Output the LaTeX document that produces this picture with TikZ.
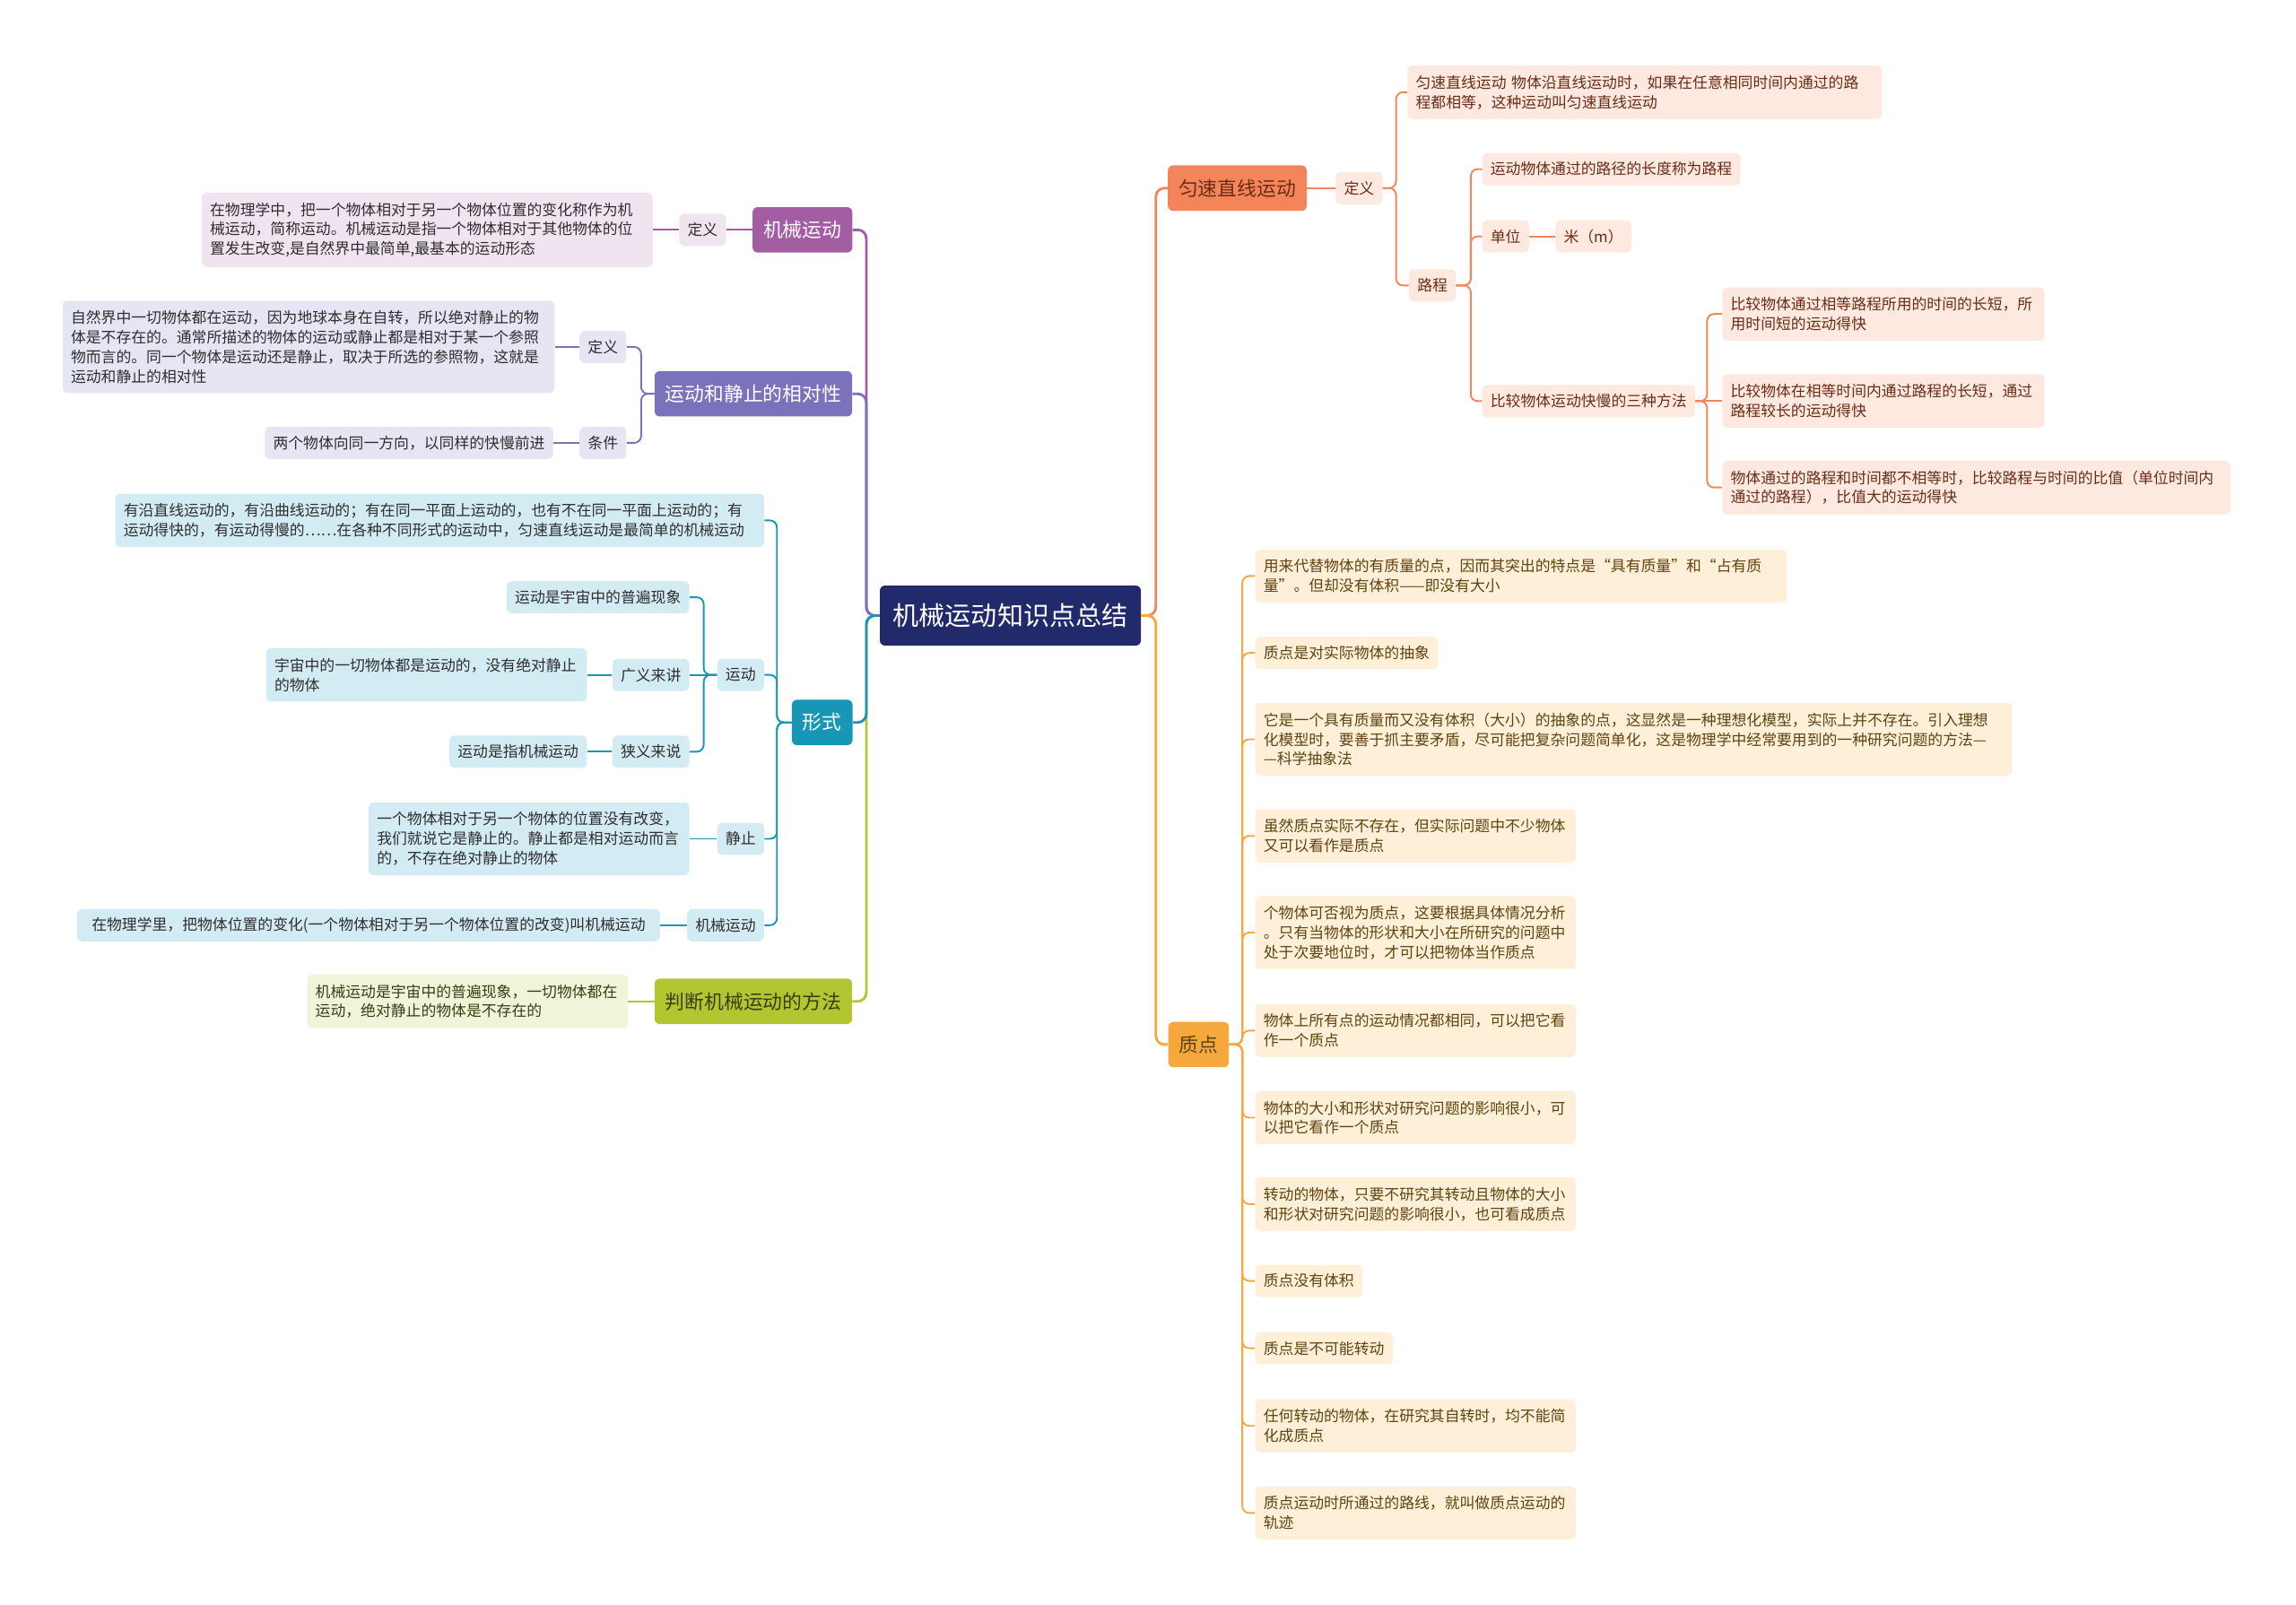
\documentclass[tikz,border=0pt]{standalone}
\usepackage{fontspec}
\setmainfont{Noto Sans CJK SC}
\usetikzlibrary{positioning}
\definecolor{rootc}{HTML}{232A6B}
\definecolor{c1}{HTML}{A35DA3}
\definecolor{bg1}{HTML}{EFE4F0}
\definecolor{c2}{HTML}{7B72BC}
\definecolor{bg2}{HTML}{E6E5F4}
\definecolor{c3}{HTML}{1797B5}
\definecolor{bg3}{HTML}{D3ECF3}
\definecolor{c4}{HTML}{B3C632}
\definecolor{bg4}{HTML}{F0F4D8}
\definecolor{ink4}{HTML}{3A3D12}
\definecolor{c5}{HTML}{F4855A}
\definecolor{bg5}{HTML}{FDE9E0}
\definecolor{ink5}{HTML}{6B2C16}
\definecolor{c6}{HTML}{F6A83D}
\definecolor{bg6}{HTML}{FEEFD9}
\definecolor{ink6}{HTML}{60430F}
\definecolor{ink}{HTML}{2E2E2E}

\begin{document}
\begin{tikzpicture}[
x=0.03cm, y=-0.03cm,
rootbox/.style={rectangle, fill=rootc, rounded corners=3pt, text=white, font=\fontsize{15.2}{18}\selectfont, minimum height=1.23cm, inner xsep=0.27cm},
mainbox/.style={rectangle, rounded corners=3pt, font=\fontsize{11.4}{14}\selectfont, minimum height=0.93cm, inner xsep=0.22cm},
tagbox/.style={rectangle, rounded corners=3pt, font=\fontsize{8.8}{11.4}\selectfont, minimum height=0.66cm, inner xsep=0.17cm, inner ysep=0.1cm},
notebox/.style={tagbox, align=left, inner ysep=0.2cm},
purplemain/.style={mainbox, fill=c1, text=white},
violetmain/.style={mainbox, fill=c2, text=white},
tealmain/.style={mainbox, fill=c3, text=white},
limemain/.style={mainbox, fill=c4, text=ink4},
coralmain/.style={mainbox, fill=c5, text=ink5},
ambermain/.style={mainbox, fill=c6, text=ink6},
purpleleaf/.style={fill=bg1, text=ink},
violetleaf/.style={fill=bg2, text=ink},
tealleaf/.style={fill=bg3, text=ink},
limeleaf/.style={fill=bg4, text=ink4},
coralleaf/.style={fill=bg5, text=ink5},
amberleaf/.style={fill=bg6, text=ink6},
trunk/.style={line width=1.5pt, rounded corners=5pt},
twig/.style={line width=1pt, rounded corners=4pt}
]
\useasboundingbox (0,0) rectangle (1568,1096);

\node[rootbox] (root) at (690,420.5) {机械运动知识点总结};

\node[purplemain] (mech) at (548,157) {机械运动};
\node[tagbox, purpleleaf, anchor=east] (mechdef) at (496,157) {定义};
\node[notebox, purpleleaf, anchor=east, text width=8.9cm] (mechtxt) at (446,157) {在物理学中，把一个物体相对于另一个物体位置的变化称作为机\\械运动，简称运动。机械运动是指一个物体相对于其他物体的位\\置发生改变,是自然界中最简单,最基本的运动形态};

\node[violetmain] (rel) at (514.5,269) {运动和静止的相对性};
\node[tagbox, violetleaf, anchor=east] (reldef) at (428,237) {定义};
\node[notebox, violetleaf, anchor=east, text width=9.74cm] (reltxt) at (379,237) {自然界中一切物体都在运动，因为地球本身在自转，所以绝对静止的物\\体是不存在的。通常所描述的物体的运动或静止都是相对于某一个参照\\物而言的。同一个物体是运动还是静止，取决于所选的参照物，这就是\\运动和静止的相对性};
\node[tagbox, violetleaf, anchor=east] (relcond) at (428,302.5) {条件};
\node[tagbox, violetleaf, anchor=east] (condtxt) at (378,302.5) {两个物体向同一方向，以同样的快慢前进};

\node[tealmain] (form) at (561.5,493.5) {形式};
\node[notebox, tealleaf, anchor=east, text width=12.95cm] (formtxt) at (522,355.5) {有沿直线运动的，有沿曲线运动的；有在同一平面上运动的，也有不在同一平面上运动的；有\\运动得快的，有运动得慢的……在各种不同形式的运动中，匀速直线运动是最简单的机械运动};
\node[tagbox, tealleaf, anchor=east] (move) at (522,461) {运动};
\node[tagbox, tealleaf, anchor=east] (common) at (471,408) {运动是宇宙中的普遍现象};
\node[tagbox, tealleaf, anchor=east] (broad) at (471,461) {广义来讲};
\node[notebox, tealleaf, anchor=east, text width=6.23cm] (broadtxt) at (401,461) {宇宙中的一切物体都是运动的，没有绝对静止\\的物体};
\node[tagbox, tealleaf, anchor=east] (narrow) at (471,513.5) {狭义来说};
\node[tagbox, tealleaf, anchor=east] (narrowtxt) at (401,513.5) {运动是指机械运动};
\node[tagbox, tealleaf, anchor=east] (rest) at (522,573) {静止};
\node[notebox, tealleaf, anchor=east, text width=6.23cm] (resttxt) at (471,573) {一个物体相对于另一个物体的位置没有改变，\\我们就说它是静止的。静止都是相对运动而言\\的，不存在绝对静止的物体};
\node[tagbox, tealleaf, anchor=east, inner xsep=0.3cm] (formmechtxt) at (451,632) {在物理学里，把物体位置的变化(一个物体相对于另一个物体位置的改变)叫机械运动};
\node[tagbox, tealleaf, anchor=east] (formmech) at (522,632) {机械运动};

\node[limemain] (judge) at (514.5,684) {判断机械运动的方法};
\node[notebox, limeleaf, anchor=east, text width=6.23cm] (judgetxt) at (429,684) {机械运动是宇宙中的普遍现象，一切物体都在\\运动，绝对静止的物体是不存在的};

\node[coralmain] (uniform) at (845,128.5) {匀速直线运动};
\node[tagbox, coralleaf, anchor=west] (unidef) at (912,128.5) {定义};
\node[notebox, coralleaf, anchor=west, text width=9.38cm] (unitxt) at (961,63) {匀速直线运动 物体沿直线运动时，如果在任意相同时间内通过的路\\程都相等，这种运动叫匀速直线运动};
\node[tagbox, coralleaf, anchor=west] (path) at (962,195) {路程};
\node[tagbox, coralleaf, anchor=west] (pathdef) at (1012,115.5) {运动物体通过的路径的长度称为路程};
\node[tagbox, coralleaf, anchor=west] (unit) at (1012,161.5) {单位};
\node[tagbox, coralleaf, anchor=west] (metre) at (1062,161.5) {米（m）};
\node[tagbox, coralleaf, anchor=west] (compare) at (1012,274) {比较物体运动快慢的三种方法};
\node[notebox, coralleaf, anchor=west, text width=6.26cm] (cmpa) at (1176,214.5) {比较物体通过相等路程所用的时间的长短，所\\用时间短的运动得快};
\node[notebox, coralleaf, anchor=west, text width=6.26cm] (cmpb) at (1176,274) {比较物体在相等时间内通过路程的长短，通过\\路程较长的运动得快};
\node[notebox, coralleaf, anchor=west, text width=10.07cm] (cmpc) at (1176,333) {物体通过的路程和时间都不相等时，比较路程与时间的比值（单位时间内\\通过的路程），比值大的运动得快};

\node[ambermain] (point) at (818.5,713.5) {质点};
\node[notebox, amberleaf, anchor=west, text width=10.55cm] (pa) at (857,393.5) {用来代替物体的有质量的点，因而其突出的特点是“具有质量”和“占有质\\量”。但却没有体积——即没有大小};
\node[tagbox, amberleaf, anchor=west] (pb) at (857,446) {质点是对实际物体的抽象};
\node[notebox, amberleaf, anchor=west, text width=15.17cm] (pc) at (857,505) {它是一个具有质量而又没有体积（大小）的抽象的点，这显然是一种理想化模型，实际上并不存在。引入理想\\化模型时，要善于抓主要矛盾，尽可能把复杂问题简单化，这是物理学中经常要用到的一种研究问题的方法—\\—科学抽象法};
\node[notebox, amberleaf, anchor=west, text width=6.23cm] (pd) at (857,571) {虽然质点实际不存在，但实际问题中不少物体\\又可以看作是质点};
\node[notebox, amberleaf, anchor=west, text width=6.23cm] (pe) at (857,637) {个物体可否视为质点，这要根据具体情况分析\\。只有当物体的形状和大小在所研究的问题中\\处于次要地位时，才可以把物体当作质点};
\node[notebox, amberleaf, anchor=west, text width=6.23cm] (pf) at (857,704) {物体上所有点的运动情况都相同，可以把它看\\作一个质点};
\node[notebox, amberleaf, anchor=west, text width=6.23cm] (pg) at (857,763.5) {物体的大小和形状对研究问题的影响很小，可\\以把它看作一个质点};
\node[notebox, amberleaf, anchor=west, text width=6.23cm] (ph) at (857,822.5) {转动的物体，只要不研究其转动且物体的大小\\和形状对研究问题的影响很小，也可看成质点};
\node[tagbox, amberleaf, anchor=west] (pi) at (857,875) {质点没有体积};
\node[tagbox, amberleaf, anchor=west] (pj) at (857,921) {质点是不可能转动};
\node[notebox, amberleaf, anchor=west, text width=6.23cm] (pk) at (857,974) {任何转动的物体，在研究其自转时，均不能简\\化成质点};
\node[notebox, amberleaf, anchor=west, text width=6.23cm] (pl) at (857,1033.5) {质点运动时所通过的路线，就叫做质点运动的\\轨迹};

\draw[trunk, c1] (root.west) -- ++(-9,0) |- (mech.east);
\draw[trunk, c2] (root.west) -- ++(-9,0) |- (rel.east);
\draw[trunk, c4] (root.west) -- ++(-9,0) |- (judge.east);
\draw[trunk, c3] (root.west) -- ++(-9,0) |- (form.east);
\draw[trunk, c5] (root.east) -- ++(10,0) |- (uniform.west);
\draw[trunk, c6] (root.east) -- ++(10,0) |- (point.west);

\draw[twig, c1] (mech.west) -- (mechdef.east);
\draw[twig, c1] (mechdef.west) -- (mechtxt.east);

\draw[twig, c2] (rel.west) -- ++(-9,0) |- (reldef.east);
\draw[twig, c2] (rel.west) -- ++(-9,0) |- (relcond.east);
\draw[twig, c2] (reldef.west) -- (reltxt.east);
\draw[twig, c2] (relcond.west) -- (condtxt.east);

\draw[twig, c3] (form.west) -- ++(-10,0) |- (formtxt.east);
\draw[twig, c3] (form.west) -- ++(-10,0) |- (move.east);
\draw[twig, c3] (form.west) -- ++(-10,0) |- (rest.east);
\draw[twig, c3] (form.west) -- ++(-10,0) |- (formmech.east);
\draw[twig, c3] (move.west) -- ++(-9,0) |- (common.east);
\draw[twig, c3] (move.west) -- (broad.east);
\draw[twig, c3] (move.west) -- ++(-9,0) |- (narrow.east);
\draw[twig, c3] (broad.west) -- (broadtxt.east);
\draw[twig, c3] (narrow.west) -- (narrowtxt.east);
\draw[twig, c3] (rest.west) -- (resttxt.east);
\draw[twig, c3] (formmech.west) -- (formmechtxt.east);

\draw[twig, c4] (judge.west) -- (judgetxt.east);

\draw[twig, c5] (uniform.east) -- (unidef.west);
\draw[twig, c5] (unidef.east) -- ++(9,0) |- (unitxt.west);
\draw[twig, c5] (unidef.east) -- ++(9,0) |- (path.west);
\draw[twig, c5] (path.east) -- ++(10,0) |- (pathdef.west);
\draw[twig, c5] (path.east) -- ++(10,0) |- (unit.west);
\draw[twig, c5] (path.east) -- ++(10,0) |- (compare.west);
\draw[twig, c5] (unit.east) -- (metre.west);
\draw[twig, c5] (compare.east) -- ++(8,0) |- (cmpa.west);
\draw[twig, c5] (compare.east) -- (cmpb.west);
\draw[twig, c5] (compare.east) -- ++(8,0) |- (cmpc.west);

\draw[twig, c6] (point.east) -- ++(9,0) |- (pa.west);
\draw[twig, c6] (point.east) -- ++(9,0) |- (pb.west);
\draw[twig, c6] (point.east) -- ++(9,0) |- (pc.west);
\draw[twig, c6] (point.east) -- ++(9,0) |- (pd.west);
\draw[twig, c6] (point.east) -- ++(9,0) |- (pe.west);
\draw[twig, c6] (point.east) -- ++(9,0) |- (pf.west);
\draw[twig, c6] (point.east) -- ++(9,0) |- (pg.west);
\draw[twig, c6] (point.east) -- ++(9,0) |- (ph.west);
\draw[twig, c6] (point.east) -- ++(9,0) |- (pi.west);
\draw[twig, c6] (point.east) -- ++(9,0) |- (pj.west);
\draw[twig, c6] (point.east) -- ++(9,0) |- (pk.west);
\draw[twig, c6] (point.east) -- ++(9,0) |- (pl.west);

\end{tikzpicture}
\end{document}
